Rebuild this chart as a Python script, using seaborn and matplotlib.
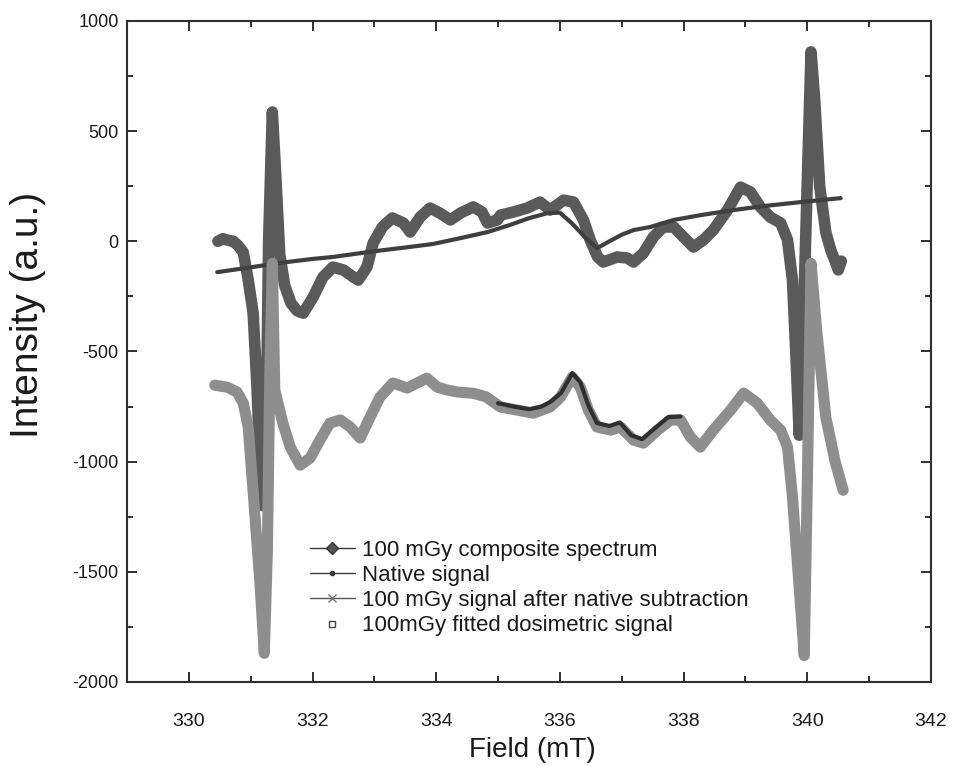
import numpy as np
import pandas as pd
import matplotlib
matplotlib.use("Agg")
import matplotlib.pyplot as plt
from matplotlib.lines import Line2D
import seaborn as sns

# ---- data (field in mT, intensity in a.u.) ----
composite_field = [330.47, 330.55, 330.63, 330.72, 330.80, 330.88, 330.96, 331.04, 331.10, 331.15,
                   331.20, 331.25, 331.29, 331.35, 331.40, 331.47, 331.55, 331.65, 331.75, 331.85,
                   332.01, 332.17, 332.33, 332.50, 332.66, 332.74, 332.88, 332.98, 333.13, 333.29,
                   333.47, 333.58, 333.74, 333.90, 334.06, 334.23, 334.39, 334.60, 334.74, 334.83,
                   334.99, 335.04, 335.25, 335.47, 335.68, 335.84, 336.06, 336.22, 336.38, 336.49,
                   336.61, 336.70, 336.93, 337.09, 337.19, 337.35, 337.51, 337.67, 337.84, 338.00,
                   338.16, 338.32, 338.48, 338.71, 338.92, 339.08, 339.24, 339.40, 339.57, 339.68,
                   339.76, 339.81, 339.87, 339.93, 339.99, 340.06, 340.12, 340.20, 340.30, 340.38,
                   340.45, 340.50, 340.55]
composite_int = [0, 12, 5, 0, -20, -50, -175, -326, -650, -1000,
                 -1200, -850, 0, 587, 330, -60, -200, -280, -315, -326,
                 -253, -162, -117, -130, -162, -176, -117, -8, 65, 106,
                 83, 42, 110, 151, 128, 97, 128, 156, 133, 83,
                 97, 119, 133, 151, 178, 142, 187, 178, 97, 6,
                 -71, -94, -71, -76, -94, -53, 19, 65, 65, 19,
                 -26, 6, 51, 142, 246, 224, 156, 110, 83, 6,
                 -176, -480, -880, -420, 175, 860, 640, 250, 40, -40,
                 -90, -130, -90]

native_field = [330.46, 331.00, 331.50, 332.00, 332.33, 333.00, 333.50, 333.95, 334.40, 334.83,
                335.20, 335.50, 335.80, 336.00, 336.20, 336.40, 336.60, 336.80, 337.00, 337.19,
                337.46, 337.84, 338.30, 338.81, 339.30, 339.89, 340.54]
native_int = [-140, -118, -97, -80, -71, -45, -28, -12, 15, 42,
              75, 105, 128, 130, 80, 20, -31, 0, 30, 51,
              65, 97, 120, 142, 160, 178, 196]

subtracted_field = [330.42, 330.62, 330.78, 330.88, 330.96, 331.05, 331.15, 331.22, 331.27, 331.31,
                    331.35, 331.39, 331.52, 331.64, 331.80, 331.96, 332.12, 332.28, 332.45, 332.61,
                    332.77, 332.93, 333.09, 333.30, 333.53, 333.69, 333.85, 334.02, 334.18, 334.34,
                    334.60, 334.80, 335.04, 335.31, 335.57, 335.84, 336.01, 336.20, 336.33, 336.46,
                    336.60, 336.82, 336.98, 337.19, 337.35, 337.58, 337.79, 337.95, 338.11, 338.27,
                    338.48, 338.76, 338.97, 339.19, 339.40, 339.57, 339.68, 339.76, 339.85, 339.95,
                    340.00, 340.06, 340.15, 340.30, 340.45, 340.58]
subtracted_int = [-653, -662, -684, -734, -843, -1175, -1550, -1870, -1400, -600,
                  -100, -675, -825, -934, -1016, -984, -902, -825, -811, -843,
                  -893, -798, -707, -643, -666, -643, -621, -662, -675, -684,
                  -690, -705, -752, -766, -780, -752, -707, -616, -662, -766,
                  -843, -857, -843, -902, -916, -857, -811, -811, -889, -934,
                  -857, -766, -689, -734, -811, -857, -934, -1161, -1500, -1880,
                  -1100, -100, -400, -800, -1000, -1130]

fitted_field = [335.00, 335.25, 335.50, 335.70, 335.85, 336.02, 336.20, 336.33, 336.46, 336.60,
                336.80, 336.97, 337.15, 337.33, 337.55, 337.75, 337.95]
fitted_int = [-735, -750, -762, -750, -728, -688, -598, -640, -745, -825,
              -838, -822, -880, -898, -845, -798, -795]

x_ticks = [330, 332, 334, 336, 338, 340, 342]
y_ticks = [-2000, -1500, -1000, -500, 0, 500, 1000]

series_labels = ["100 mGy composite spectrum",
                 "Native signal",
                 "100 mGy signal after native subtraction",
                 "100mGy fitted dosimetric signal"]

# ---- style ----
sns.set_theme(style="ticks")
plt.rcParams["font.family"] = ["Liberation Sans", "DejaVu Sans"]

c_comp = "#5a5a5a"
c_native = "#3f3f3f"
c_sub = "#8e8e8e"
c_fit = "#2f2f2f"
c_axis = "#303030"

fig = plt.figure(figsize=(9.54, 7.66), dpi=100)
ax = fig.add_axes([0.1331, 0.1097, 0.8428, 0.8629])

frames = {
    "comp": pd.DataFrame({"Field": composite_field, "Intensity": composite_int}),
    "native": pd.DataFrame({"Field": native_field, "Intensity": native_int}),
    "sub": pd.DataFrame({"Field": subtracted_field, "Intensity": subtracted_int}),
    "fit": pd.DataFrame({"Field": fitted_field, "Intensity": fitted_int}),
}

line_kw = dict(estimator=None, sort=False, solid_capstyle="round", solid_joinstyle="round")
sns.lineplot(data=frames["comp"], x="Field", y="Intensity", ax=ax, color=c_comp, linewidth=8.3, **line_kw)
sns.lineplot(data=frames["native"], x="Field", y="Intensity", ax=ax, color=c_native, linewidth=3.0, **line_kw)
sns.lineplot(data=frames["sub"], x="Field", y="Intensity", ax=ax, color=c_sub, linewidth=8.0, **line_kw)
sns.lineplot(data=frames["fit"], x="Field", y="Intensity", ax=ax, color=c_fit, linewidth=3.0, **line_kw)

ax.set_xlim(329, 342)
ax.set_ylim(-2000, 1000)
ax.set_xticks(x_ticks)
ax.set_xticks(np.arange(331, 342, 2), minor=True)
ax.set_yticks(y_ticks)
ax.set_yticks(np.arange(-1750, 1000, 500), minor=True)
ax.set_xticklabels([str(t) for t in x_ticks])
ax.set_yticklabels([str(t) for t in y_ticks])

ax.tick_params(axis="both", which="both", direction="in", top=True, right=True,
               colors=c_axis, width=1.4)
ax.tick_params(axis="both", which="major", length=7)
ax.tick_params(axis="both", which="minor", length=4)
ax.tick_params(axis="x", which="major", labelsize=14, pad=22, labelcolor="#1a1a1a")
ax.tick_params(axis="y", which="major", labelsize=13, pad=6, labelcolor="#1a1a1a")
for sp in ax.spines.values():
    sp.set_color(c_axis)
    sp.set_linewidth(1.5)

ax.set_xlabel("Field (mT)", fontsize=20, color="#1a1a1a", va="center")
ax.set_ylabel("Intensity (a.u.)", fontsize=28, color="#1a1a1a", va="center")
ax.xaxis.set_label_coords(0.504, -0.103)
ax.yaxis.set_label_coords(-0.123, 0.555)

handles = [
    Line2D([], [], color="#3a3a3a", linewidth=1.0, marker="D", markersize=6, markerfacecolor="#555555",
           markeredgecolor="#333333"),
    Line2D([], [], color="#3a3a3a", linewidth=1.0, marker="o", markersize=3, markerfacecolor="#444444",
           markeredgecolor="#333333"),
    Line2D([], [], color="#555555", linewidth=1.0, marker="x", markersize=6, markeredgecolor="#777777"),
    Line2D([], [], linestyle="none", marker="s", markersize=5, markerfacecolor="white",
           markeredgecolor="#444444", markeredgewidth=1.0),
]
leg = ax.legend(handles, series_labels, loc="upper left", bbox_to_anchor=(0.214, 0.232),
                frameon=False, fontsize=16, handlelength=2.0, handletextpad=0.35,
                labelspacing=0.19, borderpad=0.0)
for t in leg.get_texts():
    t.set_color("#1a1a1a")

fig.savefig("out.png", dpi=100)
